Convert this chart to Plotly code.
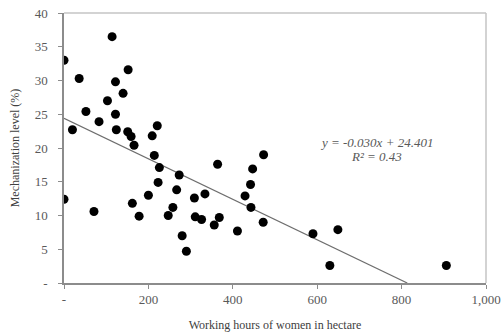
import plotly.graph_objects as go

hours = [0, 114, 36, 152, 122, 140, 103, 52, 122, 83, 221, 20, 124, 151, 159, 209, 166,
         214, 226, 223, 0, 200, 162, 71, 178, 247, 258, 273, 364, 473, 447, 442, 267,
         334, 309, 429, 443, 311, 326, 368, 356, 472, 411, 280, 290, 590, 649, 630, 906]
mech = [33.0, 36.5, 30.3, 31.6, 29.8, 28.1, 27.0, 25.4, 25.0, 23.9, 23.3, 22.7, 22.7, 22.4,
        21.7, 21.8, 20.4, 18.9, 17.1, 14.9, 12.4, 13.0, 11.8, 10.6, 9.9, 10.0, 11.2, 16.0,
        17.6, 19.0, 16.9, 14.6, 13.8, 13.2, 12.6, 12.9, 11.2, 9.8, 9.4, 9.7, 8.6, 9.0, 7.7,
        7.0, 4.7, 7.3, 7.9, 2.6, 2.6]

slope = -0.030
intercept = 24.401
r2 = 0.43

x_ticks = [0, 200, 400, 600, 800, 1000]
x_ticktext = ["-", "200", "400", "600", "800", "1,000"]
y_ticks = [0, 5, 10, 15, 20, 25, 30, 35, 40]
y_ticktext = ["-", "5", "10", "15", "20", "25", "30", "35", "40"]

x_end = -intercept / slope
trend_x = [0, x_end]
trend_y = [intercept + slope * v for v in trend_x]

serif = "Liberation Serif, Times New Roman, serif"
txt = "#595959"

fig = go.Figure()
fig.add_trace(go.Scatter(x=trend_x, y=trend_y, mode="lines",
                         line=dict(color="#6e6e6e", width=1.2), showlegend=False,
                         hoverinfo="skip"))
fig.add_trace(go.Scatter(x=hours, y=mech, mode="markers",
                         marker=dict(color="black", size=9), showlegend=False))

fig.add_annotation(x=741, y=20.8, text="<i>y = -0.030x + 24.401</i>", showarrow=False,
                   font=dict(family=serif, size=13, color=txt), xanchor="center", yanchor="middle")
fig.add_annotation(x=741, y=18.7, text="<i>R² = %.2f</i>" % r2, showarrow=False,
                   font=dict(family=serif, size=13, color=txt), xanchor="center", yanchor="middle")

# top and right frame lines
fig.add_shape(type="line", xref="paper", yref="paper", x0=0, x1=1, y0=1, y1=1,
              line=dict(color="#c4c4c4", width=1.5))
fig.add_shape(type="line", xref="paper", yref="paper", x0=1, x1=1, y0=0, y1=1,
              line=dict(color="#c4c4c4", width=1.5))

fig.update_layout(
    width=501, height=333,
    margin=dict(l=64, r=15, t=13, b=50),
    plot_bgcolor="white", paper_bgcolor="white",
    font=dict(family=serif, size=13, color=txt),
    xaxis=dict(range=[0, 1000], tickvals=x_ticks, ticktext=x_ticktext, showgrid=False,
               zeroline=False, showline=True, linecolor="#8c8c8c", linewidth=1.5,
               ticks="outside", ticklen=4, tickcolor="#8c8c8c", automargin=False,
               title=dict(text="Working hours of women in hectare", standoff=14,
                          font=dict(family=serif, size=12, color="#404040"))),
    yaxis=dict(range=[0, 40], tickvals=y_ticks, ticktext=y_ticktext, showgrid=False,
               zeroline=False, showline=True, linecolor="#8c8c8c", linewidth=1.5,
               ticks="outside", ticklen=4, tickcolor="#8c8c8c", automargin=False,
               ticklabelstandoff=8,
               title=dict(text="Mechanization level (%)", standoff=12,
                          font=dict(family=serif, size=12, color="#404040"))),
)

fig.write_html("out.html")
